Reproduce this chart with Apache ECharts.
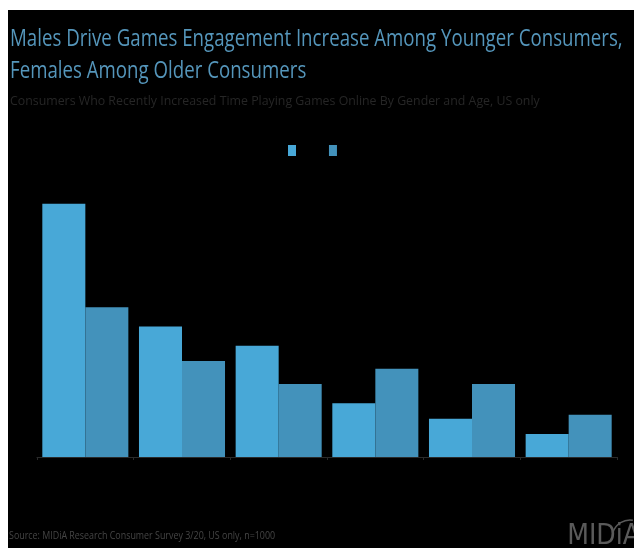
<!DOCTYPE html>
<html>
<head>
<meta charset="utf-8">
<script src="https://cdn.jsdelivr.net/npm/echarts@6/dist/echarts.min.js"></script>
<style>
  html, body { margin: 0; padding: 0; background: #ffffff; overflow: hidden; }
  #chart { position: absolute; left: 8px; top: 10px; width: 626px; height: 538px; }
</style>
</head>
<body>
<div id="chart"></div>
<script>
// Age bands (axis labels are not displayed on the slide)
const ageGroups = ['16-19', '20-24', '25-34', '35-44', '45-54', '55+'];
// Share of consumers who increased time playing games online, %
const maleValues = [33, 17, 14.5, 7, 5, 3];
const femaleValues = [19.5, 12.5, 9.5, 11.5, 9.5, 5.5];
const seriesNames = ['Male', 'Female'];

const titleLines = [
  'Males Drive Games Engagement Increase Among Younger Consumers,',
  'Females Among Older Consumers'
];
const subtitleText = 'Consumers Who Recently Increased Time Playing Games Online By Gender and Age, US only';
const sourceText = 'Source: MIDiA Research Consumer Survey 3/20, US only, n=1000';

const FONT = '"Open Sans", "DejaVu Sans Condensed", sans-serif';

// Narrow text block: the slide typeface is condensed, so squeeze horizontally
function narrowText(text, x, y, size, color, squeeze) {
  return {
    type: 'text',
    x: x,
    y: y,
    scaleX: squeeze,
    style: {
      text: text,
      fill: color,
      font: 'normal ' + size + 'px ' + FONT,
      verticalAlign: 'top',
      align: 'left'
    }
  };
}

const chart = echarts.init(document.getElementById('chart'), null, { renderer: 'canvas' });

chart.setOption({
  backgroundColor: '#000000',
  animation: false,
  legend: {
    data: seriesNames,
    left: 275,
    top: 130,
    itemWidth: 8,
    itemHeight: 11,
    itemGap: 3,
    icon: 'rect',
    textStyle: { color: '#000000', fontFamily: FONT, fontSize: 11 }
  },
  grid: { left: 29, right: 17, top: 140, bottom: 91, containLabel: false },
  xAxis: {
    type: 'category',
    data: ageGroups,
    axisLine: { lineStyle: { color: '#2a2a2a', width: 1 } },
    axisTick: { show: true, length: 3, lineStyle: { color: '#2a2a2a' } },
    axisLabel: { show: false }
  },
  yAxis: {
    type: 'value',
    min: 0,
    max: 40,
    show: false,
    splitLine: { show: false }
  },
  series: [
    {
      name: seriesNames[0],
      type: 'bar',
      data: maleValues,
      barGap: '0%',
      barCategoryGap: '11%',
      itemStyle: { color: '#48a8d7' }
    },
    {
      name: seriesNames[1],
      type: 'bar',
      data: femaleValues,
      barGap: '0%',
      barCategoryGap: '11%',
      itemStyle: { color: '#4392bb' }
    }
  ],
  graphic: [
    narrowText(titleLines[0], 2, 18, 23, '#5596bb', 0.812),
    narrowText(titleLines[1], 2, 50, 23, '#5596bb', 0.812),
    narrowText(subtitleText, 2, 85, 13, '#262626', 0.95),
    narrowText(sourceText, 1, 521, 10, '#454545', 0.89),
    {
      type: 'text',
      right: -6,
      bottom: -3,
      style: {
        text: 'MIDiA',
        fill: '#5a5a5a',
        font: '300 28px "DejaVu Sans Condensed", sans-serif'
      }
    },
    {
      type: 'arc',
      shape: { cx: 622, cy: 528, r: 18, startAngle: Math.PI * 1.1, endAngle: Math.PI * 1.55 },
      style: { stroke: '#5a5a5a', lineWidth: 1.5, fill: null }
    }
  ]
});
</script>
</body>
</html>
